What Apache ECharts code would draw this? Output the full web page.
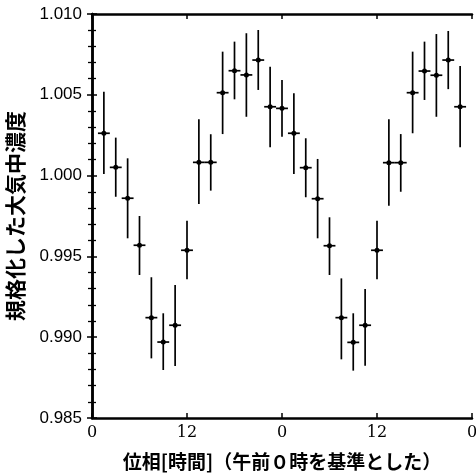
<!DOCTYPE html>
<html>
<head>
<meta charset="utf-8">
<script src="https://cdn.jsdelivr.net/npm/echarts@6/dist/echarts.min.js"></script>
<style>
  html, body { margin: 0; padding: 0; background: #fff; }
  #chart { width: 476px; height: 474px; }
</style>
</head>
<body>
<div id="chart"></div>
<script>
// Phase in hours (two cycles shown, 0–48 h, 1.5 h bins)
const phaseHours = [
  1.5, 3, 4.5, 6, 7.5, 9, 10.5, 12, 13.5, 15, 16.5, 18, 19.5, 21, 22.5, 24,
  25.5, 27, 28.5, 30, 31.5, 33, 34.5, 36, 37.5, 39, 40.5, 42, 43.5, 45, 46.5
];
// Normalised atmospheric concentration
const concentration = [
  1.00262, 1.00051, 0.99860, 0.99569, 0.99121, 0.98970, 0.99074, 0.99538,
  1.00082, 1.00082, 1.00513, 1.00649, 1.00623, 1.00715, 1.00426, 1.00416,
  1.00262, 1.00049, 0.99857, 0.99566, 0.99121, 0.98968, 0.99074, 0.99538,
  1.00080, 1.00080, 1.00513, 1.00647, 1.00621, 1.00715, 1.00426
];
// Lower and upper ends of the error bars
const errLower = [
  1.00010, 0.99869, 0.99612, 0.99385, 0.98869, 0.98797, 0.98822, 0.99358,
  0.99824, 0.99907, 1.00257, 1.00472, 1.00364, 1.00530, 1.00175, 1.00241,
  1.00010, 0.99866, 0.99612, 0.99385, 0.98863, 0.98793, 0.98824, 0.99358,
  0.99814, 0.99900, 1.00262, 1.00468, 1.00364, 1.00535, 1.00175
];
const errUpper = [
  1.00519, 1.00235, 1.00107, 0.99750, 0.99371, 0.99148, 0.99323, 0.99721,
  1.00348, 1.00256, 1.00767, 1.00829, 1.00881, 1.00901, 1.00674, 1.00592,
  1.00509, 1.00231, 1.00103, 0.99742, 0.99364, 0.99148, 0.99298, 0.99721,
  1.00348, 1.00257, 1.00767, 1.00829, 1.00876, 1.00895, 1.00678
];
// Half width of each phase bin, hours
const binHalfWidth = 0.75;

const xTicks = [0, 12, 24, 36, 48];
const yTicks = [0.985, 0.990, 0.995, 1.000, 1.005, 1.010];

const xTitle = '位相[時間]（午前０時を基準とした）';
const yTitle = '規格化した大気中濃度';

const points = phaseHours.map((h, i) => [h, concentration[i], errLower[i], errUpper[i]]);

function renderErrorPoint(params, api) {
  const x = api.value(0), y = api.value(1);
  const lo = api.value(2), hi = api.value(3);
  const c = api.coord([x, y]);
  const top = api.coord([x, hi]);
  const bot = api.coord([x, lo]);
  const left = api.coord([x - binHalfWidth, y]);
  const right = api.coord([x + binHalfWidth, y]);
  const stroke = { stroke: '#000', lineWidth: 1.7 };
  return {
    type: 'group',
    children: [
      { type: 'line', shape: { x1: top[0], y1: top[1], x2: bot[0], y2: bot[1] }, style: stroke },
      { type: 'line', shape: { x1: left[0], y1: left[1], x2: right[0], y2: right[1] }, style: stroke },
      { type: 'circle', shape: { cx: c[0], cy: c[1], r: 2.5 }, style: { fill: '#000' } }
    ]
  };
}

const axisLine = { show: true, lineStyle: { color: '#000', width: 2.5 } };

const chart = echarts.init(document.getElementById('chart'), null, { renderer: 'canvas' });
chart.setOption({
  animation: false,
  backgroundColor: '#fff',
  grid: { left: 92, right: 4, top: 14, bottom: 56, containLabel: false, outerBoundsMode: 'none' },
  xAxis: [
    {
      type: 'value', position: 'bottom',
      min: xTicks[0], max: xTicks[xTicks.length - 1], interval: 12,
      axisLine: axisLine,
      axisTick: { show: true, inside: true, length: 5, lineStyle: { color: '#000', width: 1.5 } },
      axisLabel: {
        color: '#000', fontFamily: 'DejaVu Serif', fontSize: 16, margin: 7,
        formatter: v => String(v % 24)
      },
      splitLine: { show: false },
      name: xTitle, nameLocation: 'middle', nameGap: 34,
      nameTextStyle: { color: '#000', fontFamily: 'Noto Sans CJK JP', fontSize: 19, fontWeight: 'bold' }
    },
    {
      type: 'value', position: 'top',
      min: xTicks[0], max: xTicks[xTicks.length - 1], interval: 12,
      axisLine: axisLine,
      axisTick: { show: true, inside: true, length: 5, lineStyle: { color: '#000', width: 1.5 } },
      axisLabel: { show: false },
      splitLine: { show: false }
    }
  ],
  yAxis: [
    {
      type: 'value', position: 'left',
      min: yTicks[0], max: yTicks[yTicks.length - 1], interval: 0.005,
      axisLine: axisLine,
      axisTick: { show: true, inside: true, length: 5, lineStyle: { color: '#000', width: 1.5 } },
      minorTick: { show: true, splitNumber: 5, length: 4, lineStyle: { color: '#000', width: 1.3 } },
      axisLabel: {
        color: '#000', fontFamily: 'Liberation Sans', fontSize: 17, margin: 10,
        formatter: v => v.toFixed(3)
      },
      splitLine: { show: false },
      minorSplitLine: { show: false },
      name: yTitle, nameLocation: 'middle', nameGap: 66, nameRotate: 90,
      nameTextStyle: { color: '#000', fontFamily: 'Noto Sans CJK JP', fontSize: 21, fontWeight: 'bold' }
    },
    {
      type: 'value', position: 'right',
      min: yTicks[0], max: yTicks[yTicks.length - 1], interval: 0.005,
      axisLine: axisLine,
      axisTick: { show: true, inside: true, length: 5, lineStyle: { color: '#000', width: 1.5 } },
      minorTick: { show: true, splitNumber: 5, length: 4, lineStyle: { color: '#000', width: 1.3 } },
      axisLabel: { show: false },
      splitLine: { show: false },
      minorSplitLine: { show: false }
    }
  ],
  series: [
    {
      type: 'custom',
      xAxisIndex: 0, yAxisIndex: 0,
      renderItem: renderErrorPoint,
      encode: { x: 0, y: [1, 2, 3] },
      data: points,
      clip: false
    }
  ]
});
</script>
</body>
</html>
